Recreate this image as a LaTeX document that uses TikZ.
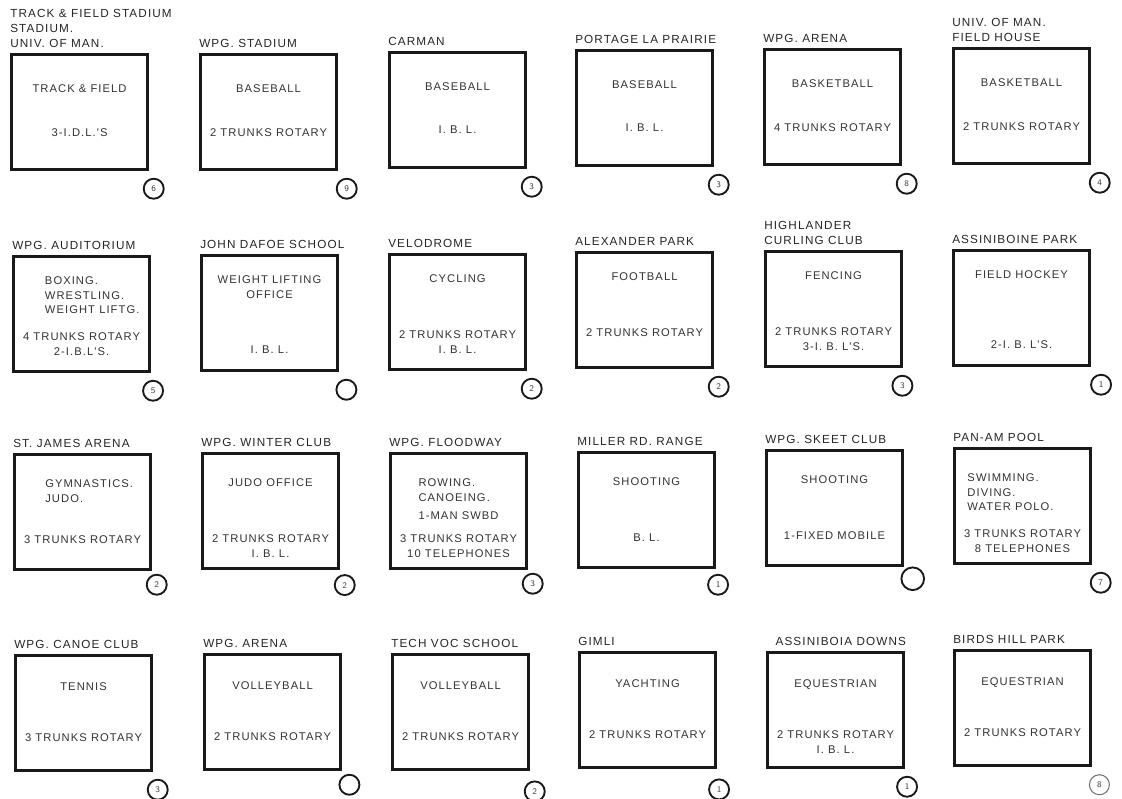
\documentclass[tikz,border=0pt]{standalone}
\usepackage{fontspec}
\newfontfamily\platefont[LetterSpace=9.5]{Liberation Sans}
\usetikzlibrary{calc}
\tikzset{
  venuebox/.style={draw=black!90,line width=2.3pt,minimum width=102pt,minimum height=86pt,
    anchor=north west,inner sep=0pt},
  venuelabel/.style={anchor=south west,inner sep=0pt,yshift=4pt,align=left,text=black!85,
    font=\platefont\fontsize{8.8}{11.25}\selectfont},
  venuetxt/.style={anchor=north,inner sep=0pt,align=center,text=black!80,
    font=\platefont\fontsize{8.4}{10.9}\selectfont},
  venuetop/.style={venuetxt},
  venuebot/.style={venuetxt},
  venuenum/.style={circle,draw=black!90,line width=1.4pt,minimum size=15pt,inner sep=0pt,
    xshift=3.5pt,yshift=-13.5pt,text=black!75,font=\sffamily\fontsize{6.5}{7}\selectfont},
}
% #1 extra keys, #2 name, #3 top left corner, #4 site, #5 sport, #6 lines, #7 count
\newcommand{\venue}[7][]{%
  \begin{scope}[#1]
    \node[venuebox] (#2) at (#3) {};
    \node[venuelabel] (#2-site) at (#2.north west) {#4};
    \node[venuetop] (#2-sport) at ($(#2.north)+(0,\topoff)$) {#5};
    \node[venuebot] (#2-lines) at ($(#2.north)+(0,\botoff)$) {#6};
    \node[venuenum] (#2-count) at (#2.south east) {#7};
  \end{scope}}

\begin{document}
\begin{tikzpicture}[x=0.75pt,y=-0.75pt]
\fill[white] (0,0) rectangle (1122,799);
\useasboundingbox (0,0) rectangle (1122,799);

% row 1
\def\topoff{31}\def\botoff{75}
\venue{track}{10,53}{TRACK \& FIELD STADIUM\\STADIUM.\\UNIV. OF MAN.}{TRACK \& FIELD}{3-I.D.L.'S}{6}
\venue[venuenum/.append style={xshift=3pt}]{stadium}{199,53}{WPG. STADIUM}{BASEBALL}{2 TRUNKS ROTARY}{9}
\venue{carman}{388,51}{CARMAN}{BASEBALL}{I. B. L.}{3}
\venue{portage}{575,49}{PORTAGE LA PRAIRIE}{BASEBALL}{I. B. L.}{3}
\venue{arena}{763,48}{WPG. ARENA}{BASKETBALL}{4 TRUNKS ROTARY}{8}
\venue[venuenum/.append style={xshift=3pt}]{fieldhouse}{952,47}{UNIV. OF MAN.\\FIELD HOUSE}{BASKETBALL}{2 TRUNKS ROTARY}{4}

% row 2
\def\topoff{21.5}\def\botoff{77.5}
\venue[venuetop/.append style={align=left,xshift=8pt},venuenum/.append style={xshift=-2pt}]{auditorium}{12,255}{WPG. AUDITORIUM}{BOXING.\\WRESTLING.\\WEIGHT LIFTG.}{4 TRUNKS ROTARY\\2-I.B.L'S.}{5}
\venue[venuebot/.append style={yshift=-10.5pt},venuenum/.append style={xshift=2pt}]{dafoe}{200,254}{JOHN DAFOE SCHOOL}{WEIGHT LIFTING\\OFFICE}{I. B. L.}{}
\venue{velodrome}{388,253}{VELODROME}{CYCLING}{2 TRUNKS ROTARY\\I. B. L.}{2}
\venue{alexander}{575,251}{ALEXANDER PARK}{FOOTBALL}{2 TRUNKS ROTARY}{2}
\venue[venuenum/.append style={xshift=-4pt}]{highlander}{764,250}{HIGHLANDER\\CURLING CLUB}{FENCING}{2 TRUNKS ROTARY\\3-I. B. L'S.}{3}
\venue[venuebot/.append style={yshift=-10.5pt},venuenum/.append style={xshift=4pt}]{assiniboine}{952,249}{ASSINIBOINE PARK}{FIELD HOCKEY}{2-I. B. L'S.}{1}

% row 3
\def\topoff{26.5}\def\botoff{82.5}
\venue[venuetop/.append style={align=left,xshift=5pt},venuenum/.append style={yshift=3pt}]{stjames}{13,453}{ST. JAMES ARENA}{GYMNASTICS.\\JUDO.}{3 TRUNKS ROTARY}{2}
\venue[venuenum/.append style={yshift=2pt}]{winter}{201,452}{WPG. WINTER CLUB}{JUDO OFFICE}{2 TRUNKS ROTARY\\I. B. L.}{2}
\venue[venuetop/.append style={align=left},venuenum/.append style={yshift=3pt}]{floodway}{389,452}{WPG. FLOODWAY}{ROWING.\\CANOEING.\\[3pt]1-MAN SWBD}{3 TRUNKS ROTARY\\10 TELEPHONES}{3}
\venue[venuenum/.append style={xshift=-2pt,yshift=1.5pt}]{miller}{577,451}{MILLER RD. RANGE}{SHOOTING}{B. L.}{1}
\venue[venuenum/.append style={xshift=3pt,yshift=4.5pt,minimum size=17pt}]{skeet}{765,449}{WPG. SKEET CLUB}{SHOOTING}{1-FIXED MOBILE}{}
\venue[venuetop/.append style={align=left,xshift=-9pt},venuenum/.append style={xshift=3pt}]{panam}{953,447}{PAN-AM POOL}{SWIMMING.\\DIVING.\\WATER POLO.}{3 TRUNKS ROTARY\\8 TELEPHONES}{7}

% row 4
\def\topoff{28.5}\def\botoff{79.5}
\venue{canoe}{14,654}{WPG. CANOE CLUB}{TENNIS}{3 TRUNKS ROTARY}{3}
\venue[venuenum/.append style={xshift=2pt,yshift=3pt}]{arenab}{203,653}{WPG. ARENA}{VOLLEYBALL}{2 TRUNKS ROTARY}{}
\venue[venuenum/.append style={yshift=-2pt}]{techvoc}{391,653}{TECH VOC SCHOOL}{VOLLEYBALL}{2 TRUNKS ROTARY}{2}
\venue[venuenum/.append style={xshift=-2pt,yshift=-2pt}]{gimli}{578,651}{GIMLI}{YACHTING}{2 TRUNKS ROTARY}{1}
\venue[venuelabel/.append style={xshift=7pt},venuenum/.append style={xshift=-2pt}]{downs}{766,651}{ASSINIBOIA DOWNS}{EQUESTRIAN}{2 TRUNKS ROTARY\\I. B. L.}{1}
\venue[venuenum/.append style={xshift=2pt,draw=black!55,line width=0.8pt}]{birds}{953,649}{BIRDS HILL PARK}{EQUESTRIAN}{2 TRUNKS ROTARY}{8}
\end{tikzpicture}
\end{document}
